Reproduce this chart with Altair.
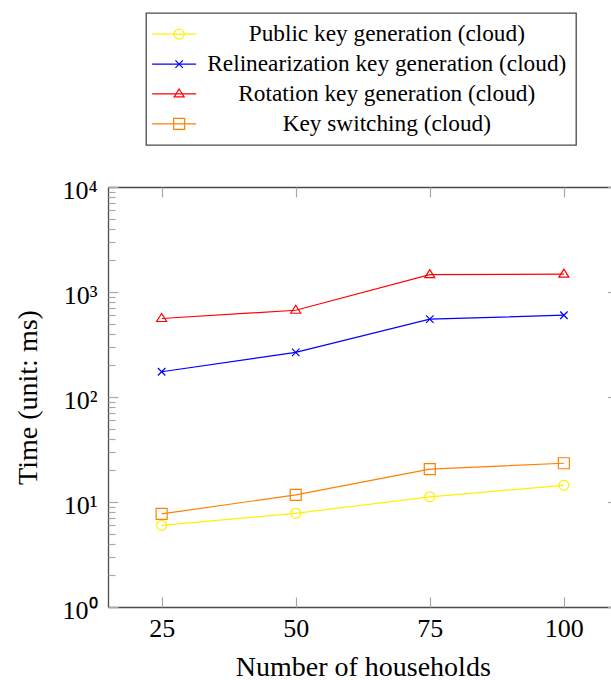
import altair as alt
import pandas as pd

# ---- data ----
households = [25, 50, 75, 100]
series_names = [
    "Public key generation (cloud)",
    "Relinearization key generation (cloud)",
    "Rotation key generation (cloud)",
    "Key switching (cloud)",
]
public_key_ms = [6.0, 7.8, 11.2, 14.4]
relin_key_ms = [174, 266, 551, 601]
rotation_key_ms = [559, 670, 1463, 1482]
key_switch_ms = [7.7, 11.7, 20.6, 23.4]

series_colors = ["#fff000", "#0000ff", "#ff0000", "#ff8000"]

x_ticks = [25, 50, 75, 100]
y_ticks = [1, 10, 100, 1000, 10000]
y_tick_labels = ["10⁰", "10¹", "10²", "10³", "10⁴"]
y_minor = [m * d for d in [1, 10, 100, 1000] for m in range(2, 10)]

# marker shapes (unit box)
marker_paths = [
    "M-1,0A1,1 0 1,0 1,0A1,1 0 1,0 -1,0",
    "M-0.75,-0.75L0.75,0.75M-0.75,0.75L0.75,-0.75",
    "M0,-1L1,0.6L-1,0.6Z",
    "M-1.1,-1.1H1.1V1.1H-1.1Z",
]
legend_line = "M-2.2,0H2.2"

rows = []
for name, vals in zip(series_names, [public_key_ms, relin_key_ms, rotation_key_ms, key_switch_ms]):
    for h, v in zip(households, vals):
        rows.append({"households": h, "time": v, "series": name})
df = pd.DataFrame(rows)

FONT = "Liberation Serif"
FRAME = "#4a4a4a"
TICK = "#a8a8a8"

LEG_X = 38
LEG_Y = -174

xscale = alt.Scale(domain=[15, 110], range=[0, 509.5], nice=False, zero=False)
yscale = alt.Scale(type="log", domain=[1, 10000], nice=False)

label_expr = f"{y_tick_labels}[indexof({y_ticks}, datum.value)]"


def tick_axis(orient, values, size, offset):
    return alt.Axis(orient=orient, values=values, tickSize=size, offset=offset,
                    tickColor=TICK, tickWidth=1.2, labels=False, domain=False,
                    title=None, grid=False)


def frame_axis(orient):
    return alt.Axis(orient=orient, ticks=False, labels=False, domain=True,
                    domainColor=FRAME, domainWidth=1.3, title=None, grid=False)


common_legend = dict(orient="none", title=None, direction="vertical",
                     labelFont=FONT, labelFontSize=23.3, labelLimit=800,
                     labelAlign="center", labelOffset=201, rowPadding=5.9,
                     padding=9.5, symbolStrokeWidth=1.2, symbolOffset=7)

base = alt.Chart(df)

lines = base.mark_line(strokeWidth=1.2).encode(
    x=alt.X("households:Q", scale=xscale,
            axis=alt.Axis(orient="bottom", values=x_ticks, ticks=False, domain=True,
                          domainColor=FRAME, domainWidth=1.3, labelFont=FONT,
                          labelFontSize=26, labelColor="black", labelPadding=8,
                          labelFlush=False, title="Number of households",
                          titleFont=FONT, titleFontSize=28, titleFontWeight="normal",
                          titleColor="black", titlePadding=12, grid=False)),
    y=alt.Y("time:Q", scale=yscale,
            axis=alt.Axis(orient="left", values=y_ticks, labelExpr=label_expr,
                          ticks=False, domain=True, domainColor=FRAME, domainWidth=1.3,
                          labelFont=FONT, labelFontSize=26, labelColor="black",
                          labelPadding=11, labelOffset=3, title="Time (unit: ms)",
                          titleFont=FONT, titleFontSize=28, titleFontWeight="normal",
                          titleColor="black", titlePadding=19, grid=False)),
    stroke=alt.Stroke("series:N",
                      scale=alt.Scale(range=series_colors),
                      sort=series_names,
                      legend=alt.Legend(legendX=LEG_X, legendY=LEG_Y,
                                        labelColor="black", symbolType=legend_line,
                                        symbolSize=400, strokeColor=FRAME,
                                        fillColor="white", zindex=0,
                                        **common_legend)),
    order=alt.Order("households:Q"),
)

# marker-only legend laid exactly over the line legend (its labels are blank spacers)
marker_legend = alt.Legend(legendX=LEG_X + 5, legendY=LEG_Y, labelOpacity=0,
                           labelExpr="'\u00a0'",
                           symbolSize=100, strokeColor="transparent",
                           fillColor="transparent", zindex=1, **common_legend)

points = base.mark_point(filled=False, strokeWidth=1.2, size=100, opacity=1).encode(
    x=alt.X("households:Q", scale=xscale, axis=tick_axis("bottom", x_ticks, 10, -10)),
    y=alt.Y("time:Q", scale=yscale, axis=tick_axis("left", y_ticks, 10, -10)),
    color=alt.Color("series:N", scale=alt.Scale(domain=series_names, range=series_colors),
                    legend=marker_legend),
    shape=alt.Shape("series:N", scale=alt.Scale(domain=series_names, range=marker_paths),
                    legend=marker_legend),
)

ghost = base.mark_point(opacity=0, size=1)

l3 = ghost.encode(
    x=alt.X("households:Q", scale=xscale, axis=frame_axis("top")),
    y=alt.Y("time:Q", scale=yscale, axis=tick_axis("left", y_minor, 7, -7)),
)
l4 = ghost.encode(
    x=alt.X("households:Q", scale=xscale, axis=tick_axis("top", x_ticks, 10, -10)),
    y=alt.Y("time:Q", scale=yscale, axis=tick_axis("right", y_ticks, 10, -3.5)),
)
l5 = ghost.encode(
    x=alt.X("households:Q", scale=xscale, axis=None),
    y=alt.Y("time:Q", scale=yscale, axis=tick_axis("right", y_minor, 7, -0.5)),
)

chart = alt.layer(lines, points, l3, l4, l5).resolve_axis(
    x="independent", y="independent"
).properties(
    width=503, height=420,
    autosize=alt.AutoSizeParams(type="none"),
    padding={"left": 108, "top": 187, "right": 0, "bottom": 73},
).configure_view(stroke=None).configure_legend(strokeWidth=1.3).configure_axis(grid=False)

chart.save("out.html", embed_options={"renderer": "svg", "actions": False})
